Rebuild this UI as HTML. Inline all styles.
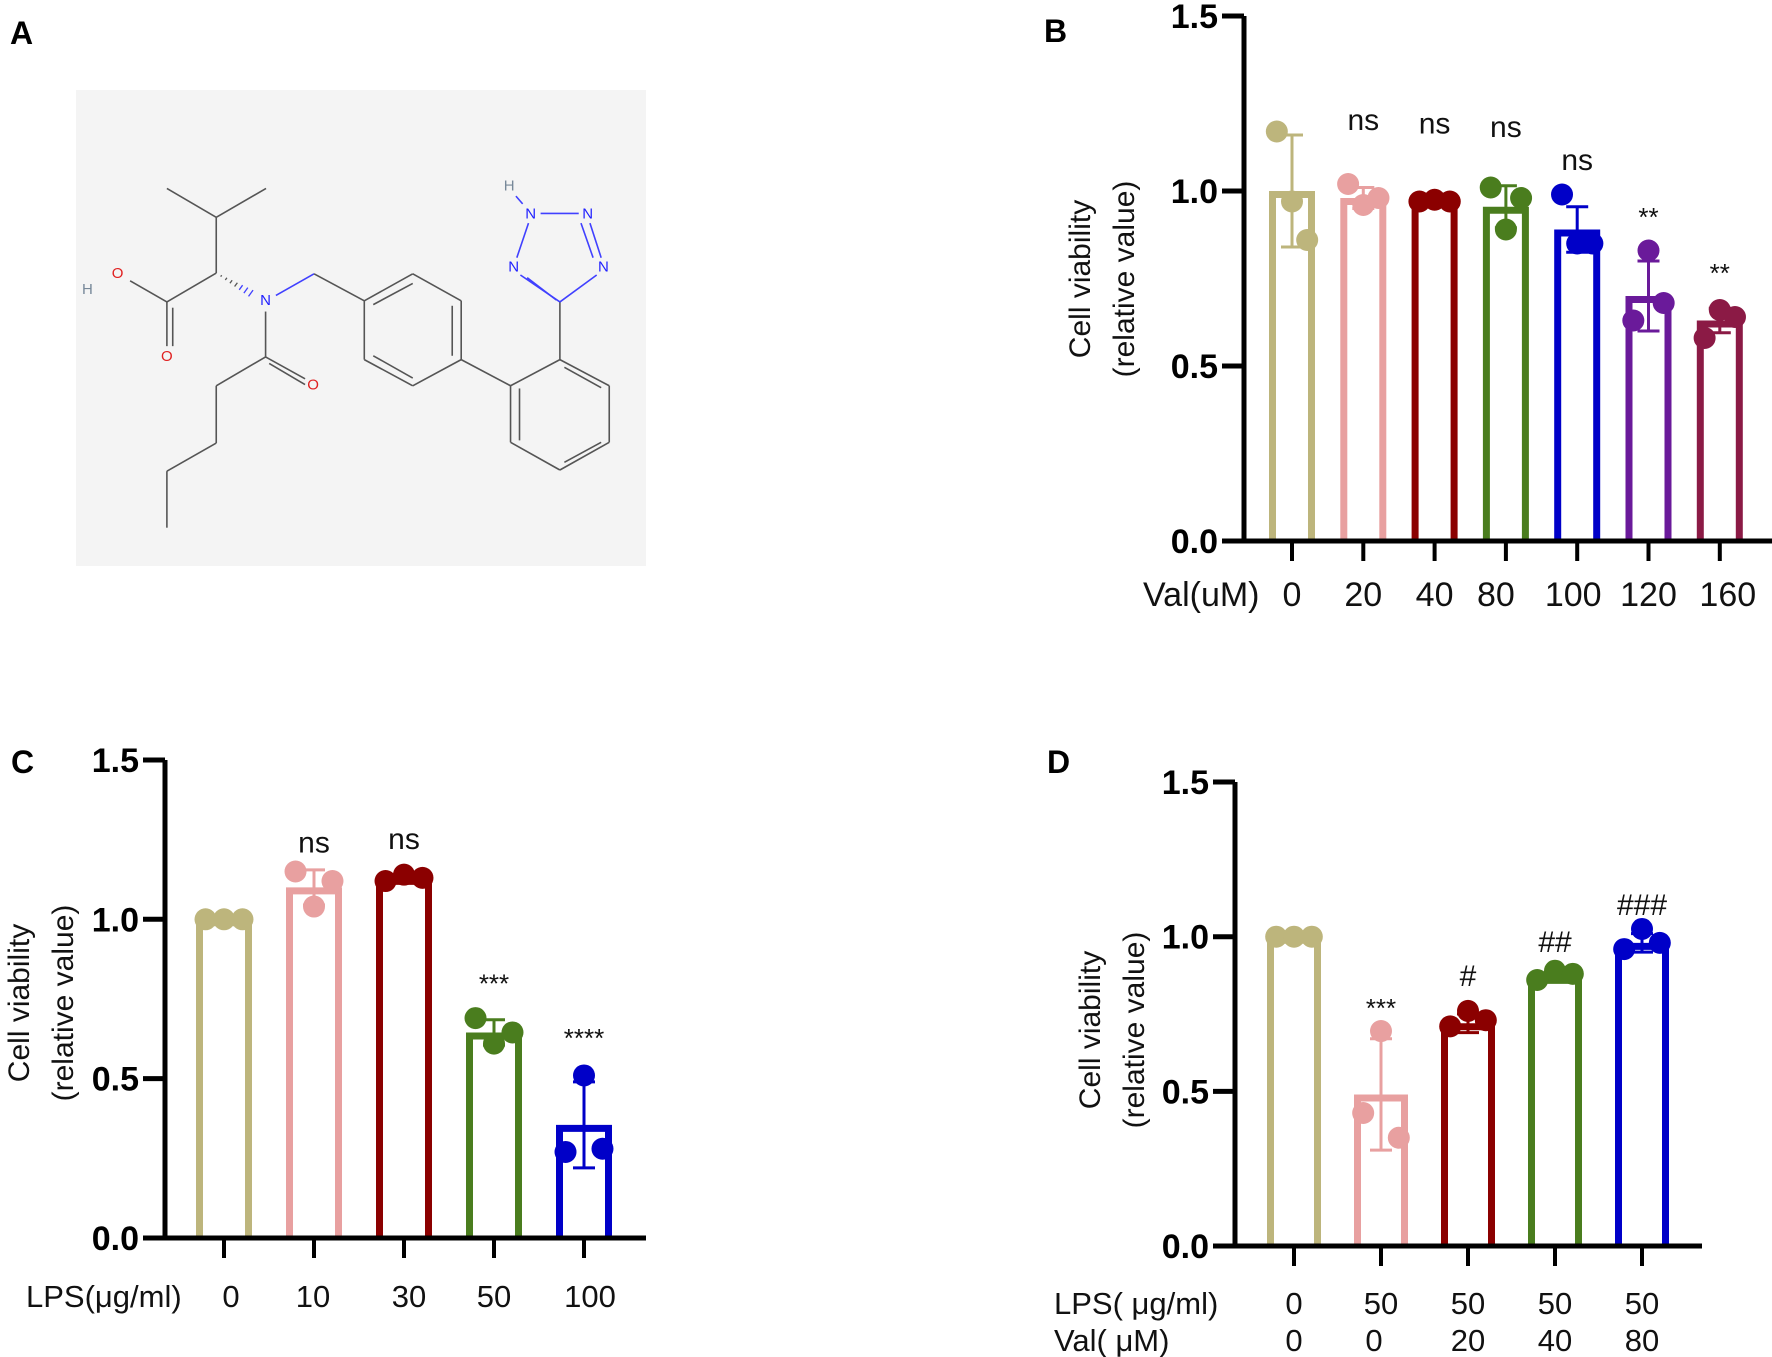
<!DOCTYPE html>
<html><head><meta charset="utf-8">
<style>
html,body{margin:0;padding:0;background:#fff;}
svg{display:block;font-family:"Liberation Sans",Arial,sans-serif;}
</style></head>
<body>
<svg id="fig" width="1772" height="1357" viewBox="0 0 1772 1357" xmlns="http://www.w3.org/2000/svg">
<text x="10" y="44" font-size="32" font-weight="bold">A</text>
<rect x="76" y="90" width="570" height="476" fill="#f4f4f4"/>
<g id="mol"></g>
<text x="1044" y="42" font-size="32" font-weight="bold">B</text>
<g id="chartB"></g>
<text x="11" y="773" font-size="32" font-weight="bold">C</text>
<g id="chartC"></g>
<text x="1047" y="773" font-size="32" font-weight="bold">D</text>
<g id="chartD"></g>
</svg>
<script>
// ---- Chart data ----
const bCategories = ["0","20","40","80","100","120","160"];
const bMeans = [1.0, 0.98, 0.97, 0.955, 0.89, 0.70, 0.63];
const bSD = [0.16, 0.03, 0.01, 0.06, 0.065, 0.10, 0.035];
const bPoints = [[1.17,0.97,0.86],[1.02,0.96,0.98],[0.97,0.975,0.97],[1.01,0.89,0.98],[0.99,0.85,0.85],[0.63,0.83,0.68],[0.58,0.66,0.64]];
const bAnnot = ["","ns","ns","ns","ns","**","**"];
const bAnnotY = [0,1.175,1.165,1.155,1.06,0.90,0.74];

const cCategories = ["0","10","30","50","100"];
const cMeans = [1.0, 1.10, 1.13, 0.645, 0.355];
const cSD = [0.005, 0.055, 0.01, 0.04, 0.135];
const cPoints = [[1.0,1.0,1.0],[1.15,1.04,1.12],[1.12,1.14,1.13],[0.69,0.61,0.645],[0.27,0.51,0.28]];
const cAnnot = ["","ns","ns","***","****"];
const cAnnotY = [0,1.21,1.22,0.77,0.6];

const dCat1 = ["0","50","50","50","50"];
const dCat2 = ["0","0","20","40","80"];
const dMeans = [1.0, 0.49, 0.72, 0.87, 0.98];
const dSD = [0.005, 0.18, 0.03, 0.015, 0.03];
const dPoints = [[1.0,1.0,1.0],[0.43,0.695,0.35],[0.71,0.76,0.73],[0.86,0.89,0.88],[0.96,1.025,0.98]];
const dAnnot = ["","***","#","##","###"];
const dAnnotY = [0,0.74,0.84,0.95,1.07];
const yTicks = ["0.0","0.5","1.0","1.5"];

const NS="http://www.w3.org/2000/svg";
function mk(parent,tag,attrs){const e=document.createElementNS(NS,tag);for(const k in attrs)e.setAttribute(k,attrs[k]);parent.appendChild(e);return e;}

function drawChart(g, cfg){
  const y = v => cfg.y0 - v*cfg.unit;
  const x = i => cfg.x0 + i*cfg.step;
  const fs = cfg.fs || 30;
  cfg.means.forEach((m,i)=>{
    const col=cfg.colors[i], cx=x(i), w=cfg.barW, sw=7;
    const r=mk(g,'path',{d:`M${cx-w/2+sw/2},${cfg.y0}V${y(m)+sw/2}H${cx+w/2-sw/2}V${cfg.y0}`,fill:'none',stroke:col,'stroke-width':sw});
    
    
    const sd=cfg.sd[i];
    const e=mk(g,'path',{d:`M${cx},${y(m-sd)}V${y(m+sd)}M${cx-11},${y(m+sd)}H${cx+11}M${cx-11},${y(m-sd)}H${cx+11}`,stroke:col,'stroke-width':3,fill:'none'});
    
    
    const offs=[-0.33,0,0.33];
    cfg.points[i].forEach((p,j)=>{
      const c=mk(g,'circle',{cx:cx+offs[j]*w,cy:y(p),r:11,fill:col});
      
      
    });
    if(cfg.annot[i]){
      const isStar=cfg.annot[i].includes('*');
      const t=mk(g,'text',{x:cx,y:y(cfg.annotY[i]),'font-size':isStar?26:30,'text-anchor':'middle',fill:'#111'});
      t.textContent=cfg.annot[i];
      
      
    }
  });
  const ax=mk(g,'path',{d:`M${cfg.x0-cfg.axOff},${y(1.5)}V${cfg.y0}M${cfg.x0-cfg.axOff-22},${cfg.y0}H${cfg.xEnd}`,stroke:'#000','stroke-width':5,fill:'none'});
  
  
  yTicks.forEach((t,k)=>{
    const v=k*0.5;
    const tk=mk(g,'line',{x1:cfg.x0-cfg.axOff-22,x2:cfg.x0-cfg.axOff,y1:y(v),y2:y(v),stroke:'#000','stroke-width':5});
    
    
    const tl=mk(g,'text',{x:cfg.x0-cfg.axOff-26,y:y(v)+12,'font-size':34,'font-weight':'bold','text-anchor':'end'});
    tl.textContent=t;
    
    
  });
  cfg.means.forEach((m,i)=>{
    const tk=mk(g,'line',{x1:x(i),x2:x(i),y1:cfg.y0,y2:cfg.y0+20,stroke:'#000','stroke-width':4});
    
    
  });
  cfg.labelRows.forEach((row,ri)=>{
    row.cats.forEach((c,i)=>{
      const t=mk(g,'text',{x:x(i)+(row.dx?row.dx[i]:0),y:row.y,'font-size':fs,'text-anchor':'middle',fill:'#111'});
      t.textContent=c;
      
      
    });
    const tt=mk(g,'text',{x:row.tx,y:row.y,'font-size':fs,fill:'#111'});
    tt.textContent=row.title;
    
    
  });
  const yt=mk(g,'text',{transform:`translate(${cfg.ytx},${cfg.yty}) rotate(-90)`,'font-size':30,'text-anchor':'middle',fill:'#111'});
  
  
  const s1=mk(yt,'tspan',{x:0,y:0}); s1.textContent='Cell viability';
  const s2=mk(yt,'tspan',{x:0,y:44}); s2.textContent='(relative value)';
}

drawChart(document.getElementById('chartB'),{
  x0:1292,step:71.3,y0:541,unit:350,barW:46,axOff:48,xEnd:1772,fs:34,
  means:bMeans,sd:bSD,points:bPoints,annot:bAnnot,annotY:bAnnotY,
  colors:['#bdb57c','#e8a0a0','#8b0000','#4a7d1e','#0000c8','#6a1a9a','#8b1a45'],
  labelRows:[{cats:bCategories,y:606,tx:1143,title:'Val(uM)',dx:[0,0,0,-10,-4,0,8]}],
  ytx:1090,yty:279
});
drawChart(document.getElementById('chartC'),{
  x0:224,step:90,y0:1238,unit:318.7,barW:56,axOff:59,xEnd:646,fs:31,
  means:cMeans,sd:cSD,points:cPoints,annot:cAnnot,annotY:cAnnotY,
  colors:['#bdb57c','#e8a0a0','#8b0000','#4a7d1e','#0000c8'],
  labelRows:[{cats:cCategories,y:1307,tx:26,title:'LPS(μg/ml)',dx:[7,-1,5,0,6]}],
  ytx:29,yty:1003
});
drawChart(document.getElementById('chartD'),{
  x0:1294,step:87,y0:1246,unit:309.3,barW:54,axOff:59,xEnd:1702,fs:31,
  means:dMeans,sd:dSD,points:dPoints,annot:dAnnot,annotY:dAnnotY,
  colors:['#bdb57c','#e8a0a0','#8b0000','#4a7d1e','#0000c8'],
  labelRows:[{cats:dCat1,y:1314,tx:1054,title:'LPS( μg/ml)'},{cats:dCat2,y:1351,tx:1054,title:'Val( μM)',dx:[0,-7,0,0,0]}],
  ytx:1100,yty:1030
});

// ---- molecule ----
const mol=document.getElementById('mol');
const P=(a,b)=>[a/2.229,b/2.6];
const bonds=[
 [[372,490],[482,565],'#555'],[[593,490],[482,565],'#555'],[[482,565],[482,710],'#555'],
 [[482,710],[372,785],'#555'],[[372,785],[290,730],'#555'],[[372,785],[372,900],'#555'],
 [[592,810],[592,928],'#555'],[[592,928],[482,1003],'#555'],[[482,1003],[482,1152],'#555'],
 [[482,1152],[372,1225],'#555'],[[372,1225],[372,1372],'#555'],[[592,928],[680,985],'#555'],
 [[615,768],[700,712],'#4040ff'],[[700,712],[812,782],'#555'],
 [[812,782],[920,712],'#555'],[[920,712],[1028,782],'#555'],[[1028,782],[1028,935],'#555'],
 [[1028,935],[920,1003],'#555'],[[920,1003],[812,935],'#555'],[[812,935],[812,782],'#555'],
 [[1028,935],[1138,1003],'#555'],
 [[1138,1003],[1248,935],'#555'],[[1248,935],[1358,1003],'#555'],[[1358,1003],[1358,1150],'#555'],
 [[1358,1150],[1248,1222],'#555'],[[1248,1222],[1138,1150],'#555'],[[1138,1150],[1138,1003],'#555'],
 [[1248,935],[1248,785],'#555'],[[1248,785],[1160,715],'#4040ff'],[[1248,785],[1330,715],'#4040ff'],
 [[1152,670],[1178,580],'#4040ff'],[[1205,555],[1290,555],'#4040ff'],[[1315,580],[1340,670],'#4040ff'],
 [[1165,530],[1150,510],'#4040ff'],
 [[832,792],[920,737],'#555'],[[1008,795],[1008,925],'#555'],[[832,925],[920,983],'#555'],
 [[1158,1010],[1158,1145],'#555'],[[1258,1202],[1340,1150],'#555'],[[1258,955],[1340,1008],'#555'],
 [[385,800],[385,900],'#555'],[[600,945],[680,1000],'#555'],[[1295,580],[1322,670],'#4040ff'],
 [[1175,722],[1240,780],'#4040ff']
];
bonds.forEach(b=>{const a=P(...b[0]),c=P(...b[1]);
  const l=mk(mol,'line',{x1:a[0],y1:a[1],x2:c[0],y2:c[1],stroke:b[2],'stroke-width':1.6});
  
  
});
for(let k=1;k<=7;k++){
  const t=k/8, cx=482+(570-482)*t, cy=710+(770-710)*t, hw=1+k*1.3;
  const a=P(cx-hw*0.5,cy+hw*0.8), c=P(cx+hw*0.5,cy-hw*0.8);
  const l=mk(mol,'line',{x1:a[0],y1:a[1],x2:c[0],y2:c[1],stroke:k>4?'#4040ff':'#555','stroke-width':1.3});
  
  
}
const atoms=[[262,710,'O','#e02020'],[195,752,'H','#789'],[372,925,'O','#e02020'],[698,1000,'O','#e02020'],
 [592,780,'N','#2020ff'],[1145,693,'N','#2020ff'],[1183,555,'N','#2020ff'],[1310,555,'N','#2020ff'],[1345,693,'N','#2020ff'],[1135,482,'H','#789']];
atoms.forEach(a=>{const p=P(a[0],a[1]);
  const t=mk(mol,'text',{x:p[0],y:p[1]+5,'font-size':15,'text-anchor':'middle',fill:a[3]});
  t.textContent=a[2];
  
  
});
</script>
</body></html>
